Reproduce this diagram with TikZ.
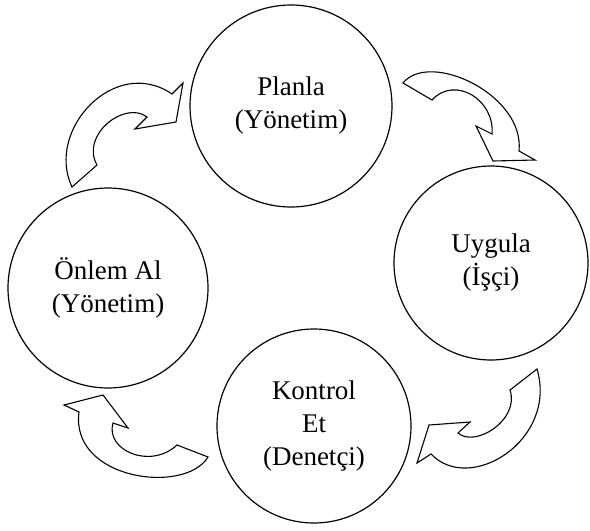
\documentclass[tikz,border=0pt]{standalone}
\usepackage{fontspec}
\setmainfont{Liberation Serif}
\begin{document}
\begin{tikzpicture}[x=1pt,y=-1pt,
  stage/.style={circle,draw=black,line width=1.2pt,fill=white,align=center,
    font=\fontsize{27}{33}\selectfont,inner sep=0pt},
  cyclearrow/.style={draw=black,fill=white,line width=1.1pt,line join=miter}]
\useasboundingbox (0,0) rectangle (590,531);

% stages of the cycle
\node[stage,minimum size=202pt] (plan)   at (291,106) {Planla\\(Yönetim)};
\node[stage,minimum size=194pt] (do)     at (491,263) {Uygula\\(İşçi)};
\node[stage,minimum size=194pt] (check)  at (314,426) {Kontrol\\Et\\(Denetçi)};
\node[stage,minimum size=200pt] (act)    at (108,288) {Önlem Al\\(Yönetim)};

% curved block arrows between the stages
\path[cyclearrow] (403,83) .. controls (430,50) and (525,95) .. (519,151)
  -- (535,160) -- (493,161) -- (476,126) -- (492,134)
  .. controls (495,100) and (455,75) .. (432,100) -- cycle;

\path[cyclearrow] (537,369) .. controls (558,440) and (470,495) .. (431,454)
  -- (417,463) -- (429,425) -- (470,422) -- (458,433)
  .. controls (475,448) and (520,420) .. (510,390) -- cycle;

\path[cyclearrow] (208,457) .. controls (185,495) and (70,480) .. (79,412)
  -- (64,405) -- (103,395) -- (128,428) -- (113,423)
  .. controls (105,450) and (150,470) .. (177,445) -- cycle;

\path[cyclearrow] (72,187) .. controls (45,130) and (115,55) .. (172,94)
  -- (183,83) -- (176,122) -- (135,129) -- (147,117)
  .. controls (125,100) and (80,135) .. (97,165) -- cycle;
\end{tikzpicture}
\end{document}
